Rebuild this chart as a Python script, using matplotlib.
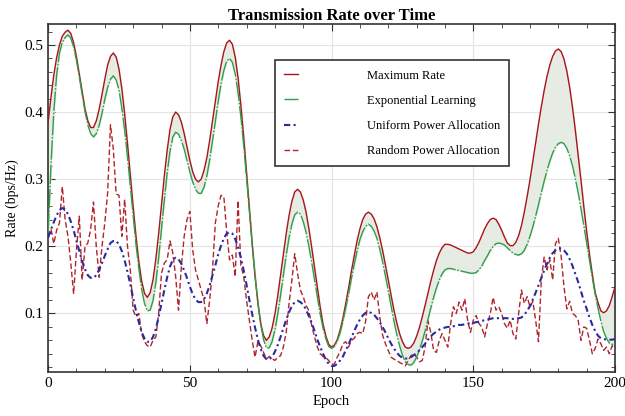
import numpy as np
import matplotlib
matplotlib.use("Agg")
import matplotlib.pyplot as plt
from matplotlib.ticker import MultipleLocator

plt.rcParams['font.family'] = ['Liberation Serif', 'DejaVu Serif']

# one value per epoch
epochs = list(range(0, 201))

max_rate = [
    0.385, 0.422, 0.455, 0.481, 0.500, 0.513, 0.519, 0.522, 0.517, 0.503,
    0.482, 0.456, 0.429, 0.405, 0.387, 0.377, 0.377, 0.387, 0.404, 0.426,
    0.449, 0.470, 0.483, 0.488, 0.482, 0.464, 0.435, 0.397, 0.353, 0.306,
    0.259, 0.215, 0.177, 0.148, 0.130, 0.124, 0.131, 0.150, 0.181, 0.219,
    0.262, 0.305, 0.343, 0.374, 0.393, 0.400, 0.396, 0.385, 0.368, 0.348,
    0.328, 0.311, 0.300, 0.296, 0.300, 0.313, 0.332, 0.358, 0.387, 0.416,
    0.445, 0.470, 0.490, 0.503, 0.507, 0.501, 0.482, 0.451, 0.410, 0.363,
    0.310, 0.257, 0.204, 0.156, 0.116, 0.085, 0.067, 0.060, 0.065, 0.078,
    0.099, 0.126, 0.157, 0.188, 0.219, 0.246, 0.267, 0.281, 0.285, 0.281,
    0.269, 0.251, 0.226, 0.198, 0.168, 0.137, 0.109, 0.084, 0.066, 0.054,
    0.050, 0.053, 0.061, 0.075, 0.093, 0.115, 0.138, 0.163, 0.186, 0.208,
    0.226, 0.240, 0.248, 0.251, 0.248, 0.241, 0.229, 0.213, 0.194, 0.172,
    0.150, 0.127, 0.105, 0.086, 0.070, 0.058, 0.050, 0.048, 0.050, 0.056,
    0.066, 0.079, 0.095, 0.112, 0.130, 0.148, 0.164, 0.179, 0.190, 0.198,
    0.203, 0.203, 0.202, 0.200, 0.198, 0.196, 0.194, 0.192, 0.190, 0.190,
    0.192, 0.198, 0.206, 0.216, 0.226, 0.234, 0.240, 0.242, 0.240, 0.233,
    0.224, 0.214, 0.205, 0.201, 0.201, 0.206, 0.216, 0.231, 0.251, 0.274,
    0.299, 0.326, 0.354, 0.382, 0.408, 0.432, 0.453, 0.470, 0.483, 0.491,
    0.494, 0.490, 0.479, 0.461, 0.437, 0.407, 0.373, 0.336, 0.298, 0.259,
    0.222, 0.188, 0.158, 0.131, 0.116, 0.104, 0.101, 0.104, 0.112, 0.125,
    0.140,
]

exp_learning = [
    0.220, 0.320, 0.400, 0.455, 0.488, 0.504, 0.511, 0.515, 0.510, 0.497,
    0.477, 0.452, 0.426, 0.401, 0.381, 0.368, 0.363, 0.368, 0.380, 0.398,
    0.419, 0.437, 0.449, 0.454, 0.448, 0.433, 0.406, 0.373, 0.333, 0.289,
    0.246, 0.203, 0.167, 0.136, 0.115, 0.104, 0.105, 0.119, 0.146, 0.183,
    0.226, 0.269, 0.309, 0.342, 0.363, 0.370, 0.367, 0.358, 0.345, 0.328,
    0.311, 0.296, 0.285, 0.279, 0.279, 0.288, 0.305, 0.329, 0.357, 0.386,
    0.416, 0.442, 0.462, 0.476, 0.480, 0.474, 0.457, 0.429, 0.393, 0.350,
    0.302, 0.251, 0.202, 0.156, 0.116, 0.084, 0.061, 0.049, 0.049, 0.058,
    0.075, 0.099, 0.127, 0.157, 0.187, 0.213, 0.233, 0.247, 0.251, 0.248,
    0.237, 0.221, 0.200, 0.176, 0.150, 0.123, 0.099, 0.078, 0.062, 0.051,
    0.048, 0.051, 0.059, 0.071, 0.088, 0.108, 0.129, 0.152, 0.173, 0.193,
    0.210, 0.222, 0.230, 0.233, 0.230, 0.223, 0.212, 0.196, 0.177, 0.156,
    0.134, 0.111, 0.089, 0.069, 0.052, 0.038, 0.028, 0.024, 0.023, 0.027,
    0.035, 0.046, 0.059, 0.074, 0.091, 0.108, 0.124, 0.138, 0.150, 0.159,
    0.165, 0.167, 0.167, 0.166, 0.165, 0.164, 0.163, 0.162, 0.161, 0.160,
    0.160, 0.161, 0.165, 0.171, 0.179, 0.186, 0.194, 0.200, 0.204, 0.205,
    0.204, 0.202, 0.198, 0.194, 0.190, 0.188, 0.187, 0.189, 0.194, 0.203,
    0.215, 0.229, 0.245, 0.262, 0.280, 0.297, 0.313, 0.327, 0.339, 0.348,
    0.353, 0.355, 0.353, 0.346, 0.335, 0.320, 0.301, 0.280, 0.256, 0.231,
    0.205, 0.178, 0.153, 0.129, 0.108, 0.089, 0.073, 0.063, 0.056, 0.054,
    0.056,
]

uniform_power = [
    0.213, 0.225, 0.236, 0.246, 0.254, 0.257, 0.255, 0.248, 0.237, 0.224,
    0.208, 0.193, 0.178, 0.166, 0.157, 0.153, 0.153, 0.157, 0.165, 0.175,
    0.186, 0.196, 0.205, 0.208, 0.208, 0.203, 0.193, 0.179, 0.162, 0.143,
    0.123, 0.104, 0.087, 0.072, 0.063, 0.058, 0.058, 0.065, 0.077, 0.095,
    0.115, 0.135, 0.154, 0.170, 0.180, 0.183, 0.181, 0.174, 0.164, 0.153,
    0.140, 0.129, 0.121, 0.117, 0.117, 0.121, 0.130, 0.142, 0.157, 0.172,
    0.188, 0.201, 0.212, 0.219, 0.221, 0.219, 0.211, 0.199, 0.183, 0.164,
    0.143, 0.120, 0.099, 0.079, 0.061, 0.047, 0.037, 0.032, 0.032, 0.035,
    0.043, 0.053, 0.065, 0.078, 0.091, 0.102, 0.111, 0.117, 0.119, 0.117,
    0.113, 0.106, 0.096, 0.086, 0.074, 0.061, 0.050, 0.040, 0.031, 0.025,
    0.022, 0.022, 0.025, 0.030, 0.036, 0.045, 0.054, 0.064, 0.074, 0.083,
    0.091, 0.097, 0.101, 0.102, 0.101, 0.098, 0.093, 0.087, 0.080, 0.072,
    0.063, 0.055, 0.048, 0.042, 0.037, 0.034, 0.033, 0.033, 0.035, 0.038,
    0.041, 0.045, 0.050, 0.055, 0.061, 0.066, 0.070, 0.073, 0.076, 0.078,
    0.079, 0.080, 0.080, 0.081, 0.082, 0.083, 0.083, 0.084, 0.085, 0.086,
    0.086, 0.087, 0.088, 0.089, 0.090, 0.091, 0.092, 0.093, 0.093, 0.093,
    0.093, 0.093, 0.093, 0.092, 0.092, 0.092, 0.093, 0.094, 0.098, 0.104,
    0.111, 0.121, 0.131, 0.142, 0.153, 0.164, 0.174, 0.183, 0.190, 0.194,
    0.197, 0.197, 0.194, 0.189, 0.181, 0.171, 0.159, 0.147, 0.133, 0.119,
    0.107, 0.094, 0.083, 0.074, 0.067, 0.063, 0.062, 0.061, 0.061, 0.061,
    0.062,
]

random_power = [
    0.215, 0.226, 0.204, 0.224, 0.235, 0.289, 0.240, 0.215, 0.175, 0.129,
    0.195, 0.245, 0.150, 0.199, 0.205, 0.225, 0.266, 0.199, 0.154, 0.200,
    0.235, 0.280, 0.381, 0.345, 0.278, 0.276, 0.215, 0.270, 0.200, 0.165,
    0.105, 0.095, 0.100, 0.070, 0.058, 0.052, 0.050, 0.060, 0.065, 0.100,
    0.160, 0.175, 0.180, 0.208, 0.190, 0.155, 0.105, 0.170, 0.215, 0.240,
    0.252, 0.195, 0.165, 0.150, 0.135, 0.120, 0.085, 0.120, 0.165, 0.235,
    0.260, 0.276, 0.274, 0.222, 0.180, 0.187, 0.155, 0.268, 0.172, 0.155,
    0.120, 0.090, 0.060, 0.035, 0.058, 0.052, 0.042, 0.032, 0.036, 0.033,
    0.030, 0.035, 0.037, 0.050, 0.072, 0.115, 0.150, 0.189, 0.160, 0.135,
    0.125, 0.112, 0.104, 0.082, 0.065, 0.050, 0.040, 0.036, 0.034, 0.030,
    0.024, 0.025, 0.035, 0.043, 0.055, 0.058, 0.050, 0.060, 0.063, 0.070,
    0.072, 0.070, 0.088, 0.125, 0.132, 0.120, 0.132, 0.095, 0.068, 0.055,
    0.045, 0.035, 0.032, 0.030, 0.027, 0.025, 0.022, 0.030, 0.037, 0.040,
    0.035, 0.028, 0.030, 0.050, 0.089, 0.072, 0.045, 0.042, 0.060, 0.070,
    0.060, 0.050, 0.085, 0.110, 0.100, 0.117, 0.105, 0.122, 0.090, 0.072,
    0.090, 0.097, 0.085, 0.080, 0.065, 0.085, 0.100, 0.124, 0.105, 0.110,
    0.100, 0.085, 0.078, 0.090, 0.070, 0.062, 0.100, 0.135, 0.115, 0.125,
    0.110, 0.118, 0.090, 0.058, 0.150, 0.184, 0.165, 0.180, 0.150, 0.204,
    0.212, 0.185, 0.140, 0.107, 0.118, 0.100, 0.097, 0.090, 0.060, 0.080,
    0.078, 0.060, 0.040, 0.048, 0.062, 0.055, 0.045, 0.050, 0.040, 0.052,
    0.048,
]

fig = plt.figure(figsize=(6.25, 4.16), dpi=100)
ax = fig.add_axes([0.077, 0.106, 0.907, 0.836])

ax.fill_between(epochs, exp_learning, max_rate, color='#e6ece4', zorder=1)
ax.plot(epochs, max_rate, color='#a8141c', lw=1.0, label='Maximum Rate', zorder=3)
ax.plot(epochs, exp_learning, color='#2e9e48', lw=1.0, dashes=(14, 1.2, 1.2, 1.2),
        label='Exponential Learning', zorder=3)
ax.plot(epochs, uniform_power, color='#2a2aa0', lw=1.5, dashes=(3, 1.6, 1, 1.6),
        label='Uniform Power Allocation', zorder=4)
ax.plot(epochs, random_power, color='#b0242c', lw=1.0, dashes=(4, 2),
        label='Random Power Allocation', zorder=2)

ax.set_xlim(0, 200)
ax.set_ylim(0.013, 0.531)
ax.xaxis.set_major_locator(MultipleLocator(50))
ax.xaxis.set_minor_locator(MultipleLocator(10))
ax.yaxis.set_major_locator(MultipleLocator(0.1))
ax.yaxis.set_minor_locator(MultipleLocator(0.02))
ax.tick_params(which='both', direction='in', top=True, right=True, color='#333333')
ax.tick_params(which='major', length=5, labelsize=11)
ax.tick_params(which='minor', length=3)
ax.grid(True, which='major', color='#e4e4e4', lw=0.8)
ax.set_axisbelow(True)
for s in ax.spines.values():
    s.set_color('#333333')
    s.set_linewidth(1.2)

ax.set_title('Transmission Rate over Time', fontsize=12, fontweight='bold', pad=1.5)
ax.set_xlabel('Epoch', fontsize=10.5)
ax.set_ylabel('Rate (bps/Hz)', fontsize=10)

leg = ax.legend(loc='upper left', bbox_to_anchor=(0.389, 0.914), fontsize=9,
                handlelength=1.1, handletextpad=5.5, labelspacing=1.05,
                borderpad=0.75, fancybox=False, framealpha=1,
                edgecolor='#333333')
leg.get_frame().set_linewidth(1.2)

fig.savefig('out.png', dpi=100)
